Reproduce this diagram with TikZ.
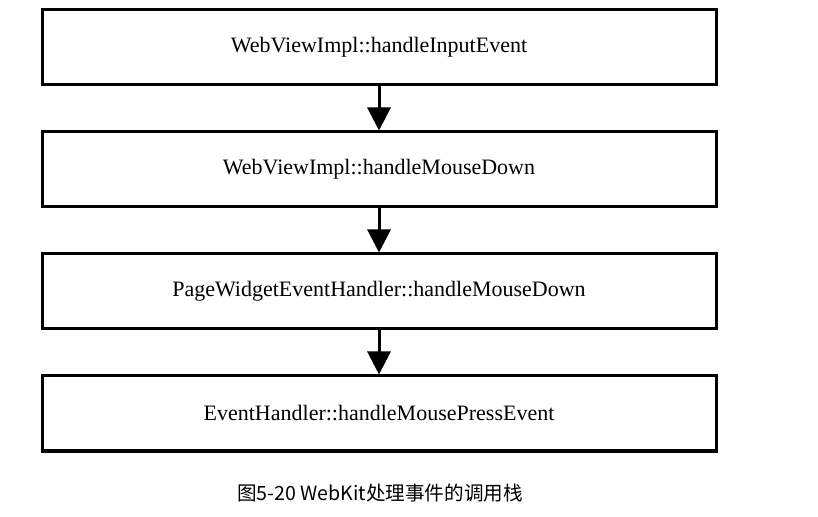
\documentclass[tikz,border=0pt]{standalone}
\usepackage{fontspec}
\setmainfont{Liberation Serif}
\newfontfamily\cjk{Noto Sans CJK SC}
\usetikzlibrary{positioning,arrows.meta}
\begin{document}
\begin{tikzpicture}[
	callbox/.style={draw,line width=1.5pt,minimum width=337pt,minimum height=37.5pt,inner sep=0pt,font=\fontsize{11}{13}\selectfont},
	callarrow/.style={line width=1.5pt,-{Triangle[width=11.5pt,length=11.5pt]}},
	node distance=22pt]
	\useasboundingbox (0,0) rectangle (409pt,-258.5pt);
	\node[callbox] (input) at (189.5pt,-23.75pt) {WebViewImpl::handleInputEvent};
	\node[callbox,below=of input] (mousedown) {WebViewImpl::handleMouseDown};
	\node[callbox,below=of mousedown] (pagewidget) {PageWidgetEventHandler::handleMouseDown};
	\node[callbox,below=of pagewidget] (press) {EventHandler::handleMousePressEvent};
	\draw[callarrow] (input) -- (mousedown);
	\draw[callarrow] (mousedown) -- (pagewidget);
	\draw[callarrow] (pagewidget) -- (press);
	\node[font=\cjk\fontsize{9.8}{11}\selectfont] (caption) at (190pt,-246.5pt) {图5-20 WebKit处理事件的调用栈};
\end{tikzpicture}
\end{document}
